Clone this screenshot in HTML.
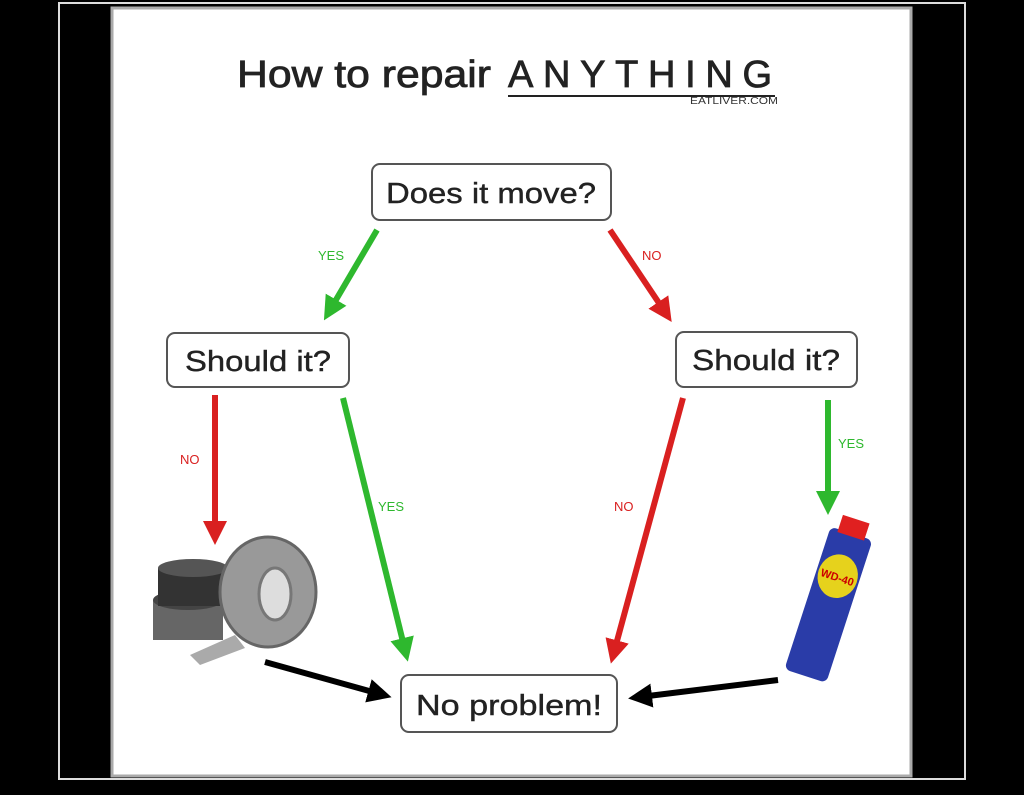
<!DOCTYPE html>
<html><head><style>
html,body{margin:0;padding:0;background:#000;}
svg{display:block;}
text{font-family:"Liberation Sans",sans-serif;}
</style></head><body>
<svg width="1024" height="795" viewBox="0 0 1024 795" xmlns="http://www.w3.org/2000/svg">
<defs>
<marker id="g" markerWidth="4" markerHeight="4" refX="2" refY="2" orient="auto"><path d="M0,0 L4,2 L0,4 z" fill="#2eb82e"/></marker>
<marker id="r" markerWidth="4" markerHeight="4" refX="2" refY="2" orient="auto"><path d="M0,0 L4,2 L0,4 z" fill="#d92020"/></marker>
<marker id="k" markerWidth="4" markerHeight="4" refX="2" refY="2" orient="auto"><path d="M0,0 L4,2 L0,4 z" fill="#000"/></marker>
</defs>
<rect width="1024" height="795" fill="#000"/>
<rect x="59" y="3" width="906" height="776" fill="none" stroke="#ddd" stroke-width="2"/>
<rect x="112" y="8" width="799" height="768" fill="#fff" stroke="#aaa" stroke-width="3"/>
<text x="237" y="87" font-size="38" fill="#222" textLength="254" lengthAdjust="spacingAndGlyphs" stroke="#222" stroke-width="0.8">How to repair</text>
<text x="508" y="87" font-size="38" fill="#222" textLength="264" lengthAdjust="spacing" stroke="#222" stroke-width="0.8">ANYTHING</text>
<line x1="508" y1="96" x2="775" y2="96" stroke="#222" stroke-width="2"/>
<text x="690" y="104" font-size="10" fill="#333" textLength="88" lengthAdjust="spacingAndGlyphs">EATLIVER.COM</text>
<g fill="#fff" stroke="#555" stroke-width="2">
<rect x="372" y="164" width="239" height="56" rx="8"/>
<rect x="167" y="333" width="182" height="54" rx="8"/>
<rect x="676" y="332" width="181" height="55" rx="8"/>
<rect x="401" y="675" width="216" height="57" rx="8"/>
</g>
<g font-size="29" fill="#222" stroke="#222" stroke-width="0.4">
<text x="386" y="203" textLength="210" lengthAdjust="spacingAndGlyphs">Does it move?</text>
<text x="185" y="371" textLength="146" lengthAdjust="spacingAndGlyphs">Should it?</text>
<text x="692" y="370" textLength="148" lengthAdjust="spacingAndGlyphs">Should it?</text>
<text x="416" y="715" textLength="186" lengthAdjust="spacingAndGlyphs">No problem!</text>
</g>
<g stroke-width="6" fill="none">
<line x1="377" y1="230" x2="330" y2="310" stroke="#2eb82e" marker-end="url(#g)"/>
<line x1="610" y1="230" x2="665" y2="312" stroke="#d92020" marker-end="url(#r)"/>
<line x1="215" y1="395" x2="215" y2="533" stroke="#d92020" marker-end="url(#r)"/>
<line x1="343" y1="398" x2="405" y2="650" stroke="#2eb82e" marker-end="url(#g)"/>
<line x1="683" y1="398" x2="614" y2="652" stroke="#d92020" marker-end="url(#r)"/>
<line x1="828" y1="400" x2="828" y2="503" stroke="#2eb82e" marker-end="url(#g)"/>
<line x1="265" y1="662" x2="380" y2="694" stroke="#000" marker-end="url(#k)"/>
<line x1="778" y1="680" x2="640" y2="697" stroke="#000" marker-end="url(#k)"/>
</g>
<g font-size="13">
<text x="318" y="260" fill="#2eb82e">YES</text>
<text x="642" y="260" fill="#d92020">NO</text>
<text x="180" y="464" fill="#d92020">NO</text>
<text x="378" y="511" fill="#2eb82e">YES</text>
<text x="614" y="511" fill="#d92020">NO</text>
<text x="838" y="448" fill="#2eb82e">YES</text>
</g>
<!-- tape -->
<rect x="153" y="600" width="70" height="40" fill="#666"/>
<ellipse cx="188" cy="600" rx="35" ry="10" fill="#444"/>
<rect x="158" y="568" width="70" height="38" fill="#333"/>
<ellipse cx="193" cy="568" rx="35" ry="9" fill="#555"/>
<ellipse cx="268" cy="592" rx="48" ry="55" fill="#999" stroke="#666" stroke-width="3"/>
<ellipse cx="275" cy="594" rx="16" ry="26" fill="#ddd" stroke="#777" stroke-width="3"/>
<path d="M235,635 L190,655 L200,665 L245,648 z" fill="#aaa"/>
<!-- can -->
<g transform="rotate(18 830 600)">
<rect x="808" y="530" width="44" height="150" rx="6" fill="#2a3ca8"/>
<rect x="816" y="515" width="28" height="18" fill="#e02020"/>
<ellipse cx="830" cy="575" rx="20" ry="22" fill="#e6d21c"/>
<text x="830" y="580" font-size="11" fill="#c00" text-anchor="middle" font-weight="bold">WD-40</text>
</g>
</svg>
</body></html>
